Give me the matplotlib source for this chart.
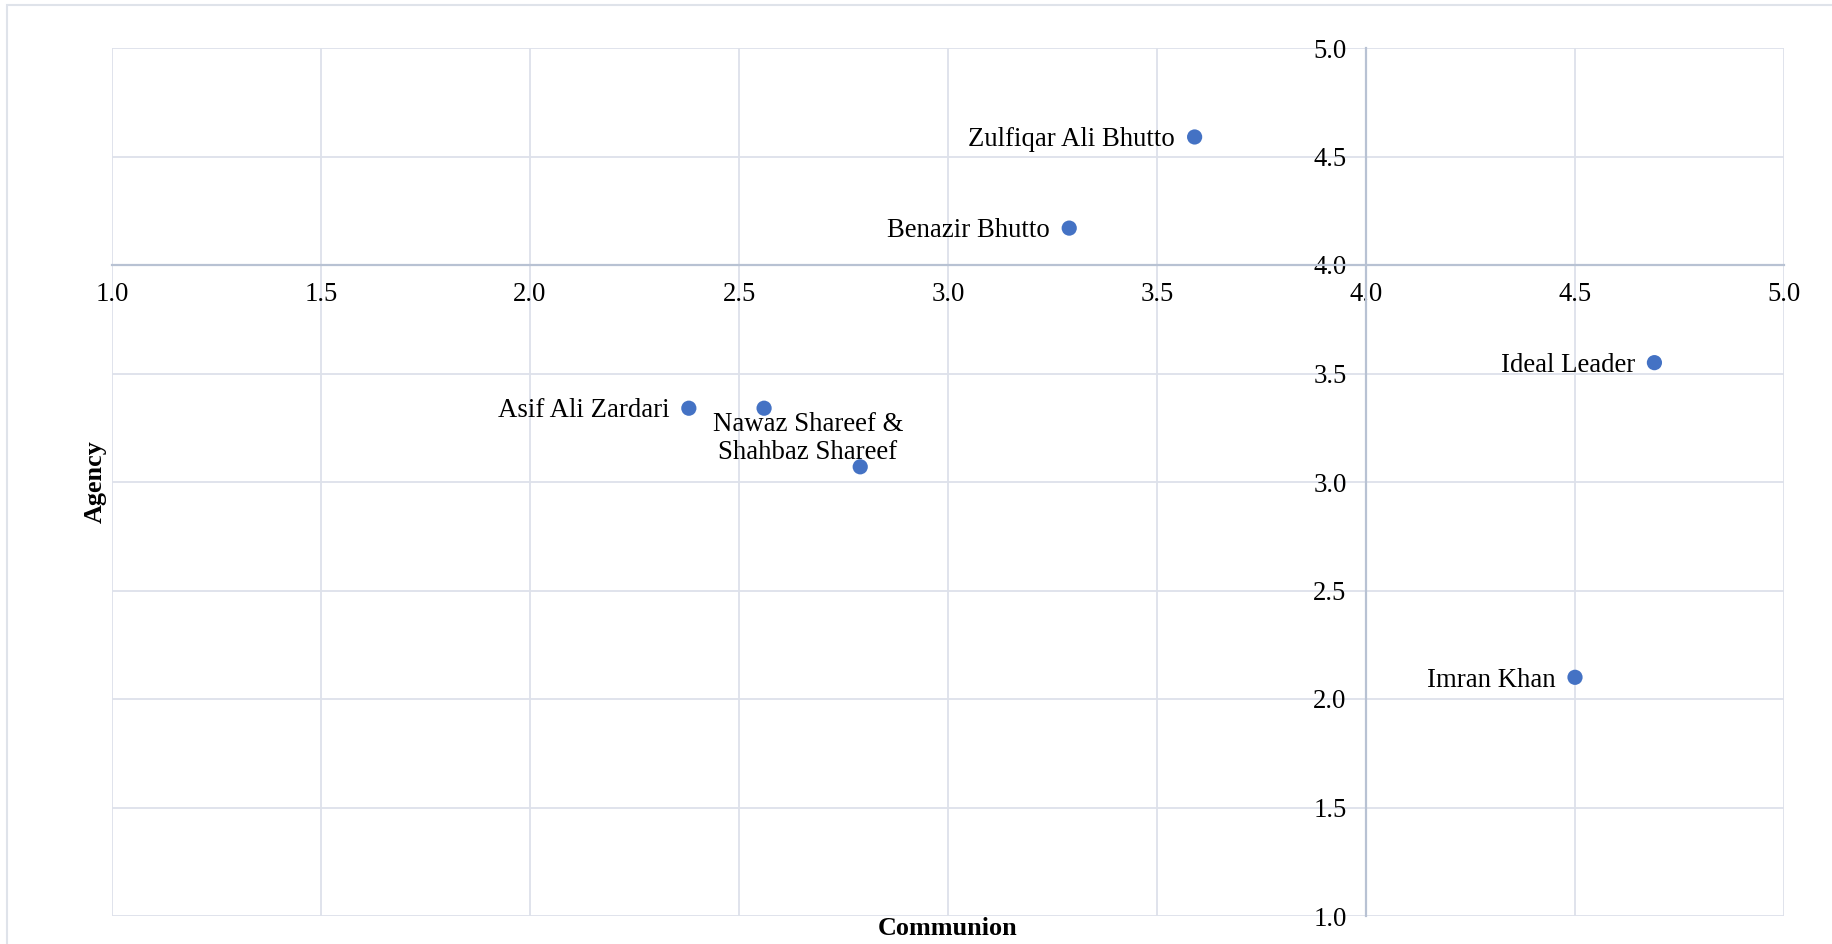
import matplotlib.pyplot as plt
from matplotlib.patches import Rectangle

# leader ratings on the two dimensions
leaders = ['Zulfiqar Ali Bhutto', 'Benazir Bhutto', 'Ideal Leader',
           'Asif Ali Zardari', '', '', 'Imran Khan']
communion = [3.59, 3.29, 4.69, 2.38, 2.56, 2.79, 4.50]
agency = [4.59, 4.17, 3.55, 3.34, 3.34, 3.07, 2.10]

# shared label for the two Shareef brothers
shareef_label = 'Nawaz Shareef &\nShahbaz Shareef'
shareef_pos = (2.665, 3.20)

ticks = [1.0, 1.5, 2.0, 2.5, 3.0, 3.5, 4.0, 4.5, 5.0]

plt.rcParams['font.family'] = ['Liberation Serif', 'DejaVu Serif']

fig = plt.figure(figsize=(18.32, 9.44), dpi=100)
ax = fig.add_axes([112 / 1832, 1 - 916 / 944, 1672 / 1832, 868 / 944])

grid_col = '#dde1ea'
axis_col = '#b8c2d3'

ax.scatter(communion, agency, s=120, color='#4472c4', zorder=3, edgecolors='none')

for name, x, y in zip(leaders, communion, agency):
    if name:
        ax.annotate(name, (x, y), xytext=(-14, -2), textcoords='offset points',
                    ha='right', va='center', fontsize=19.3, color='black')

ax.text(shareef_pos[0], shareef_pos[1], shareef_label, ha='center', va='center',
        fontsize=19.3, linespacing=1.2, zorder=4)

ax.set_xlim(1, 5)
ax.set_ylim(1, 5)
ax.set_xticks(ticks)
ax.set_yticks(ticks)
ax.set_xticklabels([f'{t:.1f}' for t in ticks])
ax.set_yticklabels([f'{t:.1f}' for t in ticks])
ax.grid(True, color=grid_col, lw=1.3)
ax.set_axisbelow(True)

for side in ('top', 'right'):
    ax.spines[side].set_visible(False)
ax.spines['left'].set_position(('data', 4.0))
ax.spines['bottom'].set_position(('data', 4.0))
for side in ('left', 'bottom'):
    ax.spines[side].set_color(axis_col)
    ax.spines[side].set_linewidth(1.6)
    ax.spines[side].set_zorder(2)

ax.tick_params(axis='x', length=0, pad=12, labelsize=19.3)
ax.tick_params(axis='y', length=0, pad=14, labelsize=19.3)

ax.set_xlabel('Communion', fontsize=18.8, fontweight='bold')
ax.xaxis.set_label_coords(0.5, -0.001)
ax.set_ylabel('Agency', fontsize=18.8, fontweight='bold')
ax.yaxis.set_label_coords(-0.003, 0.5)

# chart area frame
fig.patches.append(Rectangle((7 / 1832, -0.1), 1.2, 1.1 - 5 / 944,
                             transform=fig.transFigure, fill=False,
                             edgecolor='#dfe3ea', lw=1.5))

fig.savefig('out.png', dpi=100)
